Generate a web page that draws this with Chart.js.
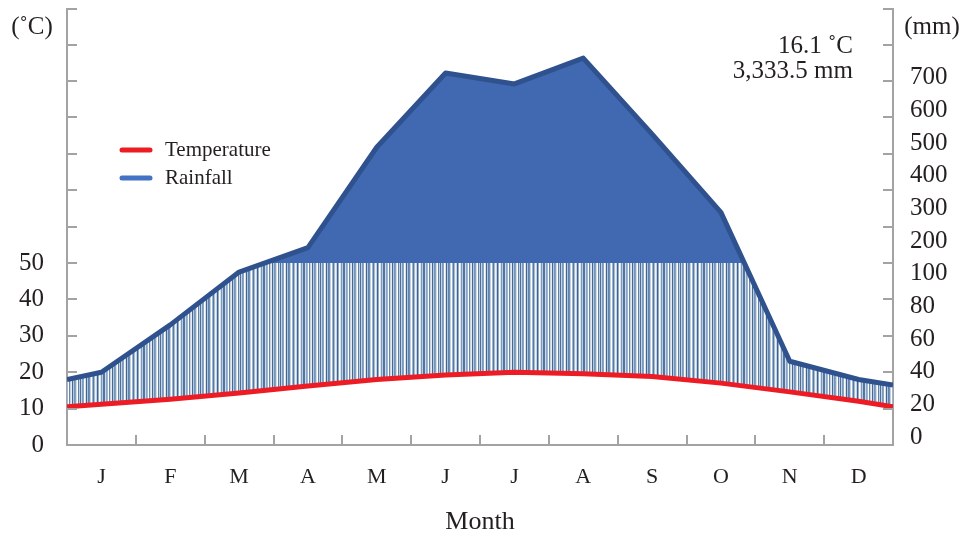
<!DOCTYPE html>
<html>
<head>
<meta charset="utf-8">
<script src="https://cdn.jsdelivr.net/npm/chart.js@4.4.1/dist/chart.umd.min.js"></script>
<style>
    body { margin: 0; background: #ffffff; }
    #grafico { display: block; }
</style>
</head>
<body>
<canvas id="grafico" width="966" height="538"></canvas>
<script>
// dados
var meses = ['J', 'F', 'M', 'A', 'M', 'J', 'J', 'A', 'S', 'O', 'N', 'D'];
var temperatura = [11.2, 12.6, 14.3, 16.2, 18.0, 19.2, 20.0, 19.6, 18.8, 17.0, 14.6, 12.0];
var chuva = [40, 66, 95, 142, 418, 622, 592, 663, 454, 239, 46, 36];
var temperaturaBordas = [10.5, 10.5];
var chuvaBordas = [36, 33];
var ticksTemperatura = [0, 10, 20, 30, 40, 50];
var ticksChuva = ['0', '20', '40', '60', '80', '100', '200', '300', '400', '500', '600', '700'];
var mediaTexto = '16.1 \u02DAC';
var totalTexto = '3,333.5 mm';

var fonte = '"Liberation Serif", "DejaVu Serif", serif';
var corTexto = '#231f20';
var corEixo = '#a3a3a3';

// acima de 100 mm a escala cai para 10 mm por grau
function chuvaNaEscala(mm) {
    return mm <= 100 ? mm / 2 : 50 + (mm - 100) / 10;
}

function montarPontos(valores, bordas, converter) {
    var pontos = [{x: 0, y: converter(bordas[0])}];
    for (let i = 0; i < valores.length; i++) {
        pontos.push({x: i + 0.5, y: converter(valores[i])});
    }
    pontos.push({x: valores.length, y: converter(bordas[1])});
    return pontos;
}

function criarHachura(ctx) {
    var listras = ['#4a70a0', '#c9d6e2', '#7d9abd', '#8aa5c4', '#ffffff', '#d5e0e9', '#3d6596', '#b4c6d7',
                   '#5f82ad', '#6f8fb6', '#c2d1de', '#ffffff', '#9fb5cc', '#5479a6', '#a9bdd1', '#eef3f7',
                   '#c6d4e0', '#3a6294', '#93acc8', '#ffffff', '#d9e3ec', '#7a98bc', '#bccddb', '#4d74a2',
                   '#4f76a4', '#cfdbe6', '#8ba6c5', '#a2b8ce', '#ffffff', '#6586b0', '#c4d3df', '#e6ecf2',
                   '#446b9c', '#b8c9d9', '#7393b9', '#89a4c3', '#d2dde7', '#ffffff', '#5d80ab', '#c0cfdc'];
    var c = document.createElement('canvas');
    c.width = listras.length;
    c.height = 4;
    var p = c.getContext('2d');
    for (let i = 0; i < listras.length; i++) {
        p.fillStyle = listras[i];
        p.fillRect(i, 0, 1, 4);
    }
    return ctx.createPattern(c, 'repeat');
}

function semPaddingVertical(axis) {
    axis.paddingTop = 0;
    axis.paddingBottom = 0;
}

var extras = {
    id: 'extras',
    afterDraw: function(chart) {
        var ctx = chart.ctx;
        var area = chart.chartArea;
        var y = chart.scales.y;
        var x = chart.scales.x;
        ctx.save();

        // marcas internas dos eixos
        ctx.strokeStyle = corEixo;
        ctx.lineWidth = 2;
        ctx.beginPath();
        for (let v = 0; v <= 120; v += 10) {
            var py = Math.max(Math.round(y.getPixelForValue(v)), area.top);
            ctx.moveTo(area.left, py);
            ctx.lineTo(area.left + 10, py);
            ctx.moveTo(area.right - 10, py);
            ctx.lineTo(area.right, py);
        }
        for (let m = 1; m < meses.length; m++) {
            var px = Math.round(x.getPixelForValue(m));
            ctx.moveTo(px, area.bottom);
            ctx.lineTo(px, area.bottom - 10);
        }
        ctx.stroke();

        // unidades
        ctx.fillStyle = corTexto;
        ctx.font = '25px ' + fonte;
        ctx.textBaseline = 'middle';
        ctx.textAlign = 'center';
        ctx.fillText('(\u02DAC)', 32, 27);
        ctx.fillText('(mm)', 932, 27);

        // media e total
        ctx.textAlign = 'right';
        ctx.fillText(mediaTexto, 853, 46);
        ctx.fillText(totalTexto, 853, 71);

        // legenda
        var itens = [
            {texto: chart.data.datasets[0].label, cor: '#ed1c24'},
            {texto: chart.data.datasets[1].label, cor: '#4472c4'}
        ];
        ctx.font = '21px ' + fonte;
        ctx.textAlign = 'left';
        ctx.lineCap = 'round';
        ctx.lineWidth = 5;
        for (let i = 0; i < itens.length; i++) {
            var ly = 150 + i * 28;
            ctx.strokeStyle = itens[i].cor;
            ctx.beginPath();
            ctx.moveTo(122, ly);
            ctx.lineTo(150, ly);
            ctx.stroke();
            ctx.fillText(itens[i].texto, 165, ly);
        }
        ctx.restore();
    }
};

function desenharGrafico() {
    var ctx = document.getElementById('grafico').getContext('2d');
    var hachura = criarHachura(ctx);
    var pontosTemp = montarPontos(temperatura, temperaturaBordas, function(v) { return v; });
    var pontosChuva = montarPontos(chuva, chuvaBordas, chuvaNaEscala);

    new Chart(ctx, {
        type: 'line',
        data: {
            datasets: [{
                label: 'Temperature',
                data: pontosTemp,
                borderColor: '#ed1c24',
                borderWidth: 5,
                pointRadius: 0,
                fill: false,
                order: 0
            }, {
                label: 'Rainfall',
                data: pontosChuva,
                borderColor: '#2f528f',
                borderWidth: 5,
                borderJoinStyle: 'round',
                pointRadius: 0,
                fill: {target: {value: 50}, above: '#4169b1', below: 'rgba(0,0,0,0)'},
                order: 1
            }, {
                label: 'humido',
                data: pontosChuva,
                borderColor: 'rgba(0,0,0,0)',
                borderWidth: 0,
                pointRadius: 0,
                fill: {target: 0, above: hachura, below: 'rgba(0,0,0,0)'},
                order: 2
            }]
        },
        options: {
            responsive: false,
            animation: false,
            layout: {
                padding: {top: 9, left: 0, right: 0, bottom: 0}
            },
            plugins: {
                legend: {display: false},
                tooltip: {enabled: false}
            },
            scales: {
                x: {
                    type: 'linear',
                    min: 0,
                    max: 12,
                    afterBuildTicks: function(axis) {
                        axis.ticks = meses.map(function(m, i) { return {value: i + 0.5}; });
                    },
                    afterFit: function(axis) {
                        axis.height = 93;
                        axis.paddingLeft = 0;
                        axis.paddingRight = 0;
                    },
                    grid: {display: true, drawOnChartArea: false, drawTicks: false},
                    border: {display: true, color: corEixo, width: 2},
                    ticks: {
                        color: corTexto,
                        padding: 19,
                        maxRotation: 0,
                        autoSkip: false,
                        font: {family: fonte, size: 22},
                        callback: function(value) { return meses[Math.floor(value)]; }
                    },
                    title: {
                        display: true,
                        text: 'Month',
                        color: corTexto,
                        font: {family: fonte, size: 26},
                        padding: {top: 16, bottom: 0}
                    }
                },
                y: {
                    position: 'left',
                    min: 0,
                    // 50 cai num pixel inteiro (sem emenda no preenchimento)
                    max: 119.78,
                    afterBuildTicks: function(axis) {
                        axis.ticks = ticksTemperatura.map(function(v) { return {value: v}; });
                    },
                    afterFit: function(axis) {
                        axis.width = 67;
                        semPaddingVertical(axis);
                    },
                    grid: {display: true, drawOnChartArea: false, drawTicks: false},
                    border: {display: true, color: corEixo, width: 2},
                    ticks: {
                        color: corTexto,
                        padding: 23,
                        font: {family: fonte, size: 25}
                    }
                },
                y2: {
                    position: 'right',
                    min: -0.235,
                    max: 13.1,
                    afterBuildTicks: function(axis) {
                        axis.ticks = ticksChuva.map(function(t, i) { return {value: i}; });
                    },
                    afterFit: function(axis) {
                        axis.width = 73;
                        semPaddingVertical(axis);
                    },
                    grid: {display: true, drawOnChartArea: false, drawTicks: false},
                    border: {display: true, color: corEixo, width: 2},
                    ticks: {
                        color: corTexto,
                        padding: 17,
                        font: {family: fonte, size: 25},
                        callback: function(value) { return ticksChuva[value]; }
                    }
                }
            }
        },
        plugins: [extras]
    });
}

desenharGrafico();
</script>
</body>
</html>
